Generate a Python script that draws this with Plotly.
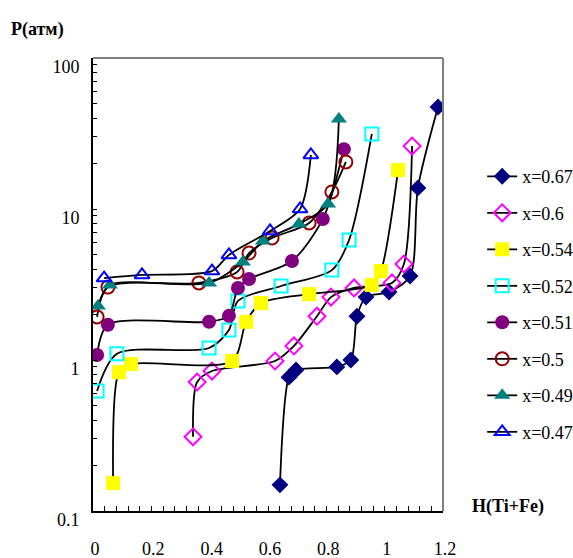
import plotly.graph_objects as go

# ---- data ----
labels = ["x=0.67", "x=0.6", "x=0.54", "x=0.52", "x=0.51", "x=0.5", "x=0.49", "x=0.47"]

h_067 = [0.641, 0.672, 0.696, 0.836, 0.884, 0.905, 0.936, 1.015, 1.087, 1.114, 1.183]
p_067 = [0.149, 0.77, 0.86, 0.90, 1.0, 1.95, 2.61, 2.82, 3.6, 13.8, 47.4]

h_060 = [0.343, 0.357, 0.408, 0.624, 0.689, 0.768, 0.816, 0.895, 1.025, 1.066, 1.094]
p_060 = [0.31, 0.715, 0.845, 0.985, 1.24, 1.95, 2.61, 3.0, 3.24, 4.32, 26.1]

h_054 = [0.069, 0.089, 0.130, 0.477, 0.525, 0.576, 0.741, 0.956, 0.987, 1.046]
p_054 = [0.153, 0.83, 0.94, 0.985, 1.79, 2.38, 2.73, 3.14, 3.88, 18.1]

h_052 = [0.014, 0.082, 0.398, 0.466, 0.497, 0.645, 0.819, 0.878, 0.956]
p_052 = [0.624, 1.10, 1.20, 1.58, 2.46, 3.09, 3.94, 6.23, 31.4]

h_051 = [0.014, 0.051, 0.398, 0.466, 0.497, 0.535, 0.682, 0.788, 0.860]
p_051 = [1.08, 1.71, 1.79, 1.96, 3.0, 3.44, 4.53, 8.59, 24.9]

h_050 = [0.014, 0.051, 0.363, 0.494, 0.535, 0.614, 0.741, 0.819, 0.867]
p_050 = [1.93, 3.04, 3.24, 3.83, 5.11, 6.43, 8.08, 12.97, 20.5]

h_049 = [0.017, 0.058, 0.398, 0.514, 0.583, 0.706, 0.806, 0.843]
p_049 = [2.28, 3.14, 3.24, 4.46, 6.14, 7.96, 10.8, 39.4]

h_047 = [0.038, 0.168, 0.408, 0.466, 0.607, 0.710, 0.747]
p_047 = [3.49, 3.66, 3.88, 4.96, 7.15, 10.0, 22.8]

x_ticks = [0, 0.2, 0.4, 0.6, 0.8, 1, 1.2]
x_tick_text = ["0", "0.2", "0.4", "0.6", "0.8", "1", "1.2"]
y_ticks = [0.1, 1, 10, 100]
y_tick_text = ["0.1", "1", "10", "100"]

series = [
    (h_067, p_067, "diamond", "#000080", 13, False),
    (h_060, p_060, "diamond-open", "#FF00FF", 13, True),
    (h_054, p_054, "square", "#FFFF00", 14, False),
    (h_052, p_052, "square-open", "#00FFFF", 13, True),
    (h_051, p_051, "circle", "#800080", 14, False),
    (h_050, p_050, "circle-open", "#990000", 13, True),
    (h_049, p_049, "triangle-up", "#008080", 14, False),
    (h_047, p_047, "triangle-up-open", "#0000FF", 13, True),
]

FONT = "Liberation Serif"

fig = go.Figure()
for (hx, py, sym, col, size, is_open), name in zip(series, labels):
    marker = dict(symbol=sym, size=size, color=col)
    if is_open:
        marker["line"] = dict(color=col, width=2)
    else:
        marker["line"] = dict(width=0)
    fig.add_trace(go.Scatter(
        x=hx, y=py, name=name, mode="lines+markers",
        line=dict(color="black", width=1.8, shape="spline", smoothing=0.8),
        marker=marker, legendgroup=name,
    ))

fig.update_layout(
    width=573, height=558,
    margin=dict(l=93, r=130, t=58, b=47, autoexpand=False),
    paper_bgcolor="white", plot_bgcolor="white",
    font=dict(family=FONT, size=18, color="black"),
    showlegend=True,
    legend=dict(x=1.112, y=0.779, xanchor="left", yanchor="top",
                font=dict(family=FONT, size=18, color="black"),
                tracegroupgap=10.1, bgcolor="rgba(0,0,0,0)", borderwidth=0),
    shapes=[
        dict(type="line", xref="paper", yref="paper", x0=0, x1=1, y0=1, y1=1,
             line=dict(color="#808080", width=2)),
        dict(type="line", xref="paper", yref="paper", x0=1, x1=1, y0=0, y1=1,
             line=dict(color="#808080", width=2)),
    ],
    annotations=[
        dict(text="<b>P(атм)</b>", xref="paper", yref="paper", x=-0.24, y=1.062,
             xanchor="left", yanchor="middle", showarrow=False,
             font=dict(family=FONT, size=18, color="black")),
        dict(text="<b>H(Ti+Fe)</b>", xref="paper", yref="paper", x=1.076, y=0.011,
             xanchor="left", yanchor="middle", showarrow=False,
             font=dict(family=FONT, size=18, color="black")),
    ],
)

fig.update_xaxes(
    range=[0, 1.2], showgrid=False, zeroline=False, automargin=False,
    showline=True, linecolor="black", linewidth=2,
    tickmode="array", tickvals=x_ticks, ticktext=x_tick_text,
    ticks="inside", ticklen=5, tickcolor="black", tickwidth=1,
    minor=dict(ticks="inside", ticklen=5, dtick=0.04, tickcolor="black", showgrid=False),
    ticklabelstandoff=20, ticklabelshift=2,
    tickfont=dict(family=FONT, size=18, color="black"),
)
fig.update_yaxes(
    type="log", range=[-1, 2], showgrid=False, zeroline=False, automargin=False,
    showline=True, linecolor="black", linewidth=2,
    tickmode="array", tickvals=y_ticks, ticktext=y_tick_text,
    ticks="inside", ticklen=4, tickcolor="black", tickwidth=1,
    minor=dict(ticks="inside", ticklen=4, dtick="D1", tickcolor="black", showgrid=False),
    ticklabelstandoff=8, ticklabelshift=9,
    tickfont=dict(family=FONT, size=18, color="black"),
)

fig.write_html(
    "out.html",
    config={"displayModeBar": False},
    post_script="document.body.style.margin='0';document.body.style.overflow='hidden';",
)
